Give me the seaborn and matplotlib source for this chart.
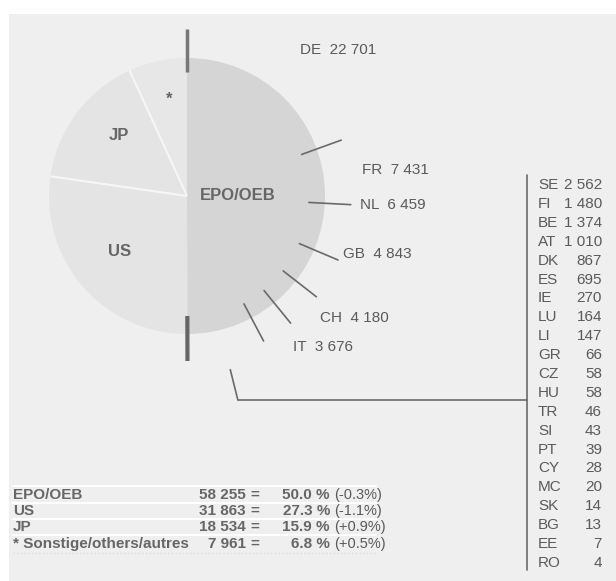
import numpy as np
import matplotlib
matplotlib.use('Agg')
import matplotlib.pyplot as plt
from matplotlib.patches import Rectangle
import seaborn as sns

# filings by office (pie)
offices = ['EPO/OEB', 'US', 'JP', '*']
filings = [58255, 31863, 18534, 7961]
table_names = ['EPO/OEB', 'US', 'JP', '* Sonstige/others/autres']
shares = ['50.0 %', '27.3 %', '15.9 %', '6.8 %']
changes = ['(-0.3%)', '(-1.1%)', '(+0.9%)', '(+0.5%)']

# breakdown of the EPO slice
big_states = ['DE', 'FR', 'NL', 'GB', 'CH', 'IT']
big_values = [22701, 7431, 6459, 4843, 4180, 3676]
small_states = ['SE', 'FI', 'BE', 'AT', 'DK', 'ES', 'IE', 'LU', 'LI', 'GR', 'CZ',
                'HU', 'TR', 'SI', 'PT', 'CY', 'MC', 'SK', 'BG', 'EE', 'RO']
small_values = [2562, 1480, 1374, 1010, 867, 695, 270, 164, 147, 66, 58,
                58, 46, 43, 39, 28, 20, 14, 13, 7, 4]


def fmt(v):
    return f'{v:,}'.replace(',', ' ')


sns.set_style('white')
plt.rcParams['font.family'] = ['Liberation Sans', 'DejaVu Sans']

W, H = 616, 581
fig = plt.figure(figsize=(W / 100, H / 100), dpi=100)
ax = fig.add_axes([0, 0, 1, 1])

txt = '#5a5a5a'
cx, cy, R = 187, H - 196, 138

ax.add_patch(Rectangle((9, 0), W - 9, H - 14, facecolor='#efefef', edgecolor='none', zorder=0))

cols = ['#d5d5d5', '#e4e4e4', '#e4e4e4', '#e7e7e7']
ax.pie(filings, colors=cols, startangle=90, counterclock=False,
       center=(cx, cy), radius=R, wedgeprops=dict(linewidth=0))

total = sum(filings)


def ang(cum):
    # clockwise from top -> math radians
    return np.deg2rad(90 - cum / total * 360)


def seg(a, r1, r2, **kw):
    ax.plot([cx + r1 * np.cos(a), cx + r2 * np.cos(a)],
            [cy + r1 * np.sin(a), cy + r2 * np.sin(a)], **kw)


# white separators between US / JP / others
cum = np.cumsum(filings)
for c in cum[1:3]:
    seg(ang(c), 0, R, color='#f6f6f6', lw=1.5, solid_capstyle='butt')

# dark bars at the ends of the EPO slice
seg(ang(0), 124, 167, color='#777777', lw=2.5, solid_capstyle='butt')
seg(ang(filings[0]), 120, 165, color='#666666', lw=3, solid_capstyle='butt')

# ticks between the bigger member states
big_cum = np.cumsum(big_values)
for c in big_cum:
    seg(ang(c), 122, 164, color='#6a6a6a', lw=1.2)

# bracket to the list of smaller states
a_rest = ang((big_cum[-1] + filings[0]) / 2)
seg(a_rest, 179, 210, color='#6a6a6a', lw=1.2)
ex, ey = cx + 210 * np.cos(a_rest), cy + 210 * np.sin(a_rest)
ax.plot([ex, 527], [ey, ey], color='#6a6a6a', lw=1.2)
ax.plot([527, 527], [H - 175, H - 570], color='#6a6a6a', lw=1.2)

# slice labels
slice_pos = [(238, 195), (120, 251), (119, 135), (169, 99)]
for name, (x, y) in zip(offices, slice_pos):
    ax.text(x, H - y, name, ha='center', va='center', fontsize=12,
            fontweight='bold', color='#666666')

# labels of bigger states
big_pos = [(300, 50), (362, 170), (360, 205), (343, 254), (320, 318), (293, 347)]
for s, v, (x, y) in zip(big_states, big_values, big_pos):
    ax.text(x, H - y, f'{s}  {fmt(v)}', ha='left', va='center', fontsize=11, color=txt)

# list of smaller states
for i, (s, v) in enumerate(zip(small_states, small_values)):
    y = H - (185 + i * 18.9)
    ax.text(538, y, s, ha='left', va='center', fontsize=11, color=txt)
    ax.text(602, y, fmt(v), ha='right', va='center', fontsize=11, color=txt)

# summary table
rows_y = [495, 511, 527, 544]
for name, v, sh, ch, y in zip(table_names, filings, shares, changes, rows_y):
    yy = H - y
    ax.text(13, yy, name, ha='left', va='center', fontsize=11, fontweight='bold', color='#666666')
    ax.text(246, yy, fmt(v), ha='right', va='center', fontsize=11, fontweight='bold', color='#666666')
    ax.text(250, yy, '=', ha='left', va='center', fontsize=11, fontweight='bold', color='#666666')
    ax.text(330, yy, sh, ha='right', va='center', fontsize=11, fontweight='bold', color='#666666')
    ax.text(334, yy, ch, ha='left', va='center', fontsize=10.5, color=txt)
for y in [486, 503, 519, 535]:
    ax.plot([13, 376], [H - y, H - y], color='white', lw=1.5)
ax.plot([13, 376], [H - 553, H - 553], color='#dddddd', lw=1, ls=':')

ax.set_xlim(0, W)
ax.set_ylim(0, H)
ax.set_aspect('auto')
ax.axis('off')

fig.savefig('out.png', dpi=100, facecolor='white')
